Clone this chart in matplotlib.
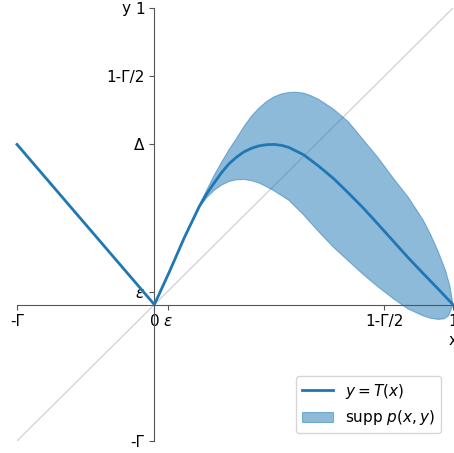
import numpy as np
import matplotlib.pyplot as plt

plt.rcParams.update({
    "font.size": 11,
    "legend.fontsize": 11,
})

# --- constants ---
gamma = 0.46
eps = 0.044
delta = 0.54

# left branch of T (x < 0)
left_x = [-gamma, 0.0]
left_y = [delta, 0.0]

# right branch of T (0 <= x <= 1)
t_x = [0.0, 0.05, 0.10, 0.15, 0.175, 0.20, 0.225, 0.25, 0.275, 0.30, 0.325,
       0.35, 0.375, 0.40, 0.425, 0.45, 0.50, 0.55, 0.60, 0.65, 0.70, 0.75,
       0.80, 0.85, 0.90, 0.95, 1.0]
t_y = [0.0, 0.11, 0.225, 0.33, 0.373, 0.41, 0.445, 0.475, 0.497, 0.515, 0.527,
       0.535, 0.539, 0.540, 0.537, 0.530, 0.505, 0.467, 0.425, 0.376, 0.325, 0.270,
       0.214, 0.158, 0.105, 0.053, 0.0]

# support of p(x, y): upper and lower edges
up_x = [0.0, 0.05, 0.10, 0.15, 0.175, 0.20, 0.225, 0.25, 0.275, 0.30, 0.325,
        0.35, 0.375, 0.40, 0.425, 0.45, 0.475, 0.50, 0.525, 0.55, 0.60, 0.65,
        0.70, 0.75, 0.80, 0.85, 0.90, 0.925, 0.95, 0.975, 0.99, 1.0]
up_y = [0.0, 0.11, 0.225, 0.335, 0.385, 0.435, 0.48, 0.522, 0.56, 0.60, 0.635,
        0.662, 0.684, 0.700, 0.710, 0.715, 0.716, 0.713, 0.704, 0.692, 0.659, 0.616,
        0.555, 0.494, 0.426, 0.362, 0.285, 0.236, 0.180, 0.115, 0.060, 0.0]
lo_x = [0.0, 0.05, 0.10, 0.15, 0.175, 0.20, 0.225, 0.25, 0.275, 0.30, 0.325,
        0.35, 0.375, 0.40, 0.45, 0.50, 0.55, 0.60, 0.65, 0.70, 0.75, 0.80,
        0.85, 0.90, 0.925, 0.95, 0.97, 0.985, 1.0]
lo_y = [0.0, 0.11, 0.225, 0.328, 0.36, 0.385, 0.403, 0.415, 0.421, 0.422, 0.418,
        0.41, 0.398, 0.384, 0.352, 0.302, 0.246, 0.193, 0.147, 0.101, 0.059, 0.020,
        -0.015, -0.038, -0.046, -0.050, -0.048, -0.038, 0.0]

xtick_pos = [-gamma, 0, eps, 1 - gamma / 2, 1]
xtick_lab = ["-Γ", "0", r"$\varepsilon$", "1-Γ/2", "1"]
ytick_pos = [-gamma, eps, delta, 1 - gamma / 2, 1]
ytick_lab = ["-Γ", r"$\varepsilon$", "Δ", "1-Γ/2", "1"]

fig = plt.figure(figsize=(4.54, 4.53), dpi=100)
ax = fig.add_axes([17 / 454, 12 / 453, 436 / 454, 433 / 453])

# diagonal y = x
ax.plot([-gamma, 1], [-gamma, 1], color="#cccccc", linewidth=0.8, zorder=1)

# support band
poly_x = up_x + lo_x[::-1]
poly_y = up_y + lo_y[::-1]
ax.fill(poly_x, poly_y, color="tab:blue", alpha=0.5, linewidth=0.8,
        label=r"supp $p(x, y)$", zorder=2)

# T(x)
ax.plot(left_x + t_x, left_y + t_y, color="tab:blue", linewidth=2,
        label=r"$y = T(x)$", zorder=3, clip_on=False)

ax.set_xlim(-gamma, 1)
ax.set_ylim(-gamma, 1)

ax.spines["left"].set_position(("data", 0))
ax.spines["bottom"].set_position(("data", 0))
ax.spines["top"].set_visible(False)
ax.spines["right"].set_visible(False)
for s in ("left", "bottom"):
    ax.spines[s].set_color("#555555")
ax.tick_params(colors="#555555", labelcolor="black")

ax.set_xticks(xtick_pos)
ax.set_xticklabels(xtick_lab)
ax.set_yticks(ytick_pos)
ax.set_yticklabels(ytick_lab)

# axis names placed at the ends of the axes
ax.annotate("y", xy=(0, 1), xytext=(-17, 0), textcoords="offset points",
            ha="right", va="center", fontsize=11)
ax.annotate("x", xy=(1, 0), xytext=(-3, -26), textcoords="offset points",
            ha="left", va="center", fontsize=11)

# handles: line first, then band
h, l = ax.get_legend_handles_labels()
order = [l.index(r"$y = T(x)$"), l.index(r"supp $p(x, y)$")]
ax.legend([h[i] for i in order], [l[i] for i in order], loc="lower right",
          bbox_to_anchor=(0.99, 0.0))

fig.savefig("out.png", dpi=100)
